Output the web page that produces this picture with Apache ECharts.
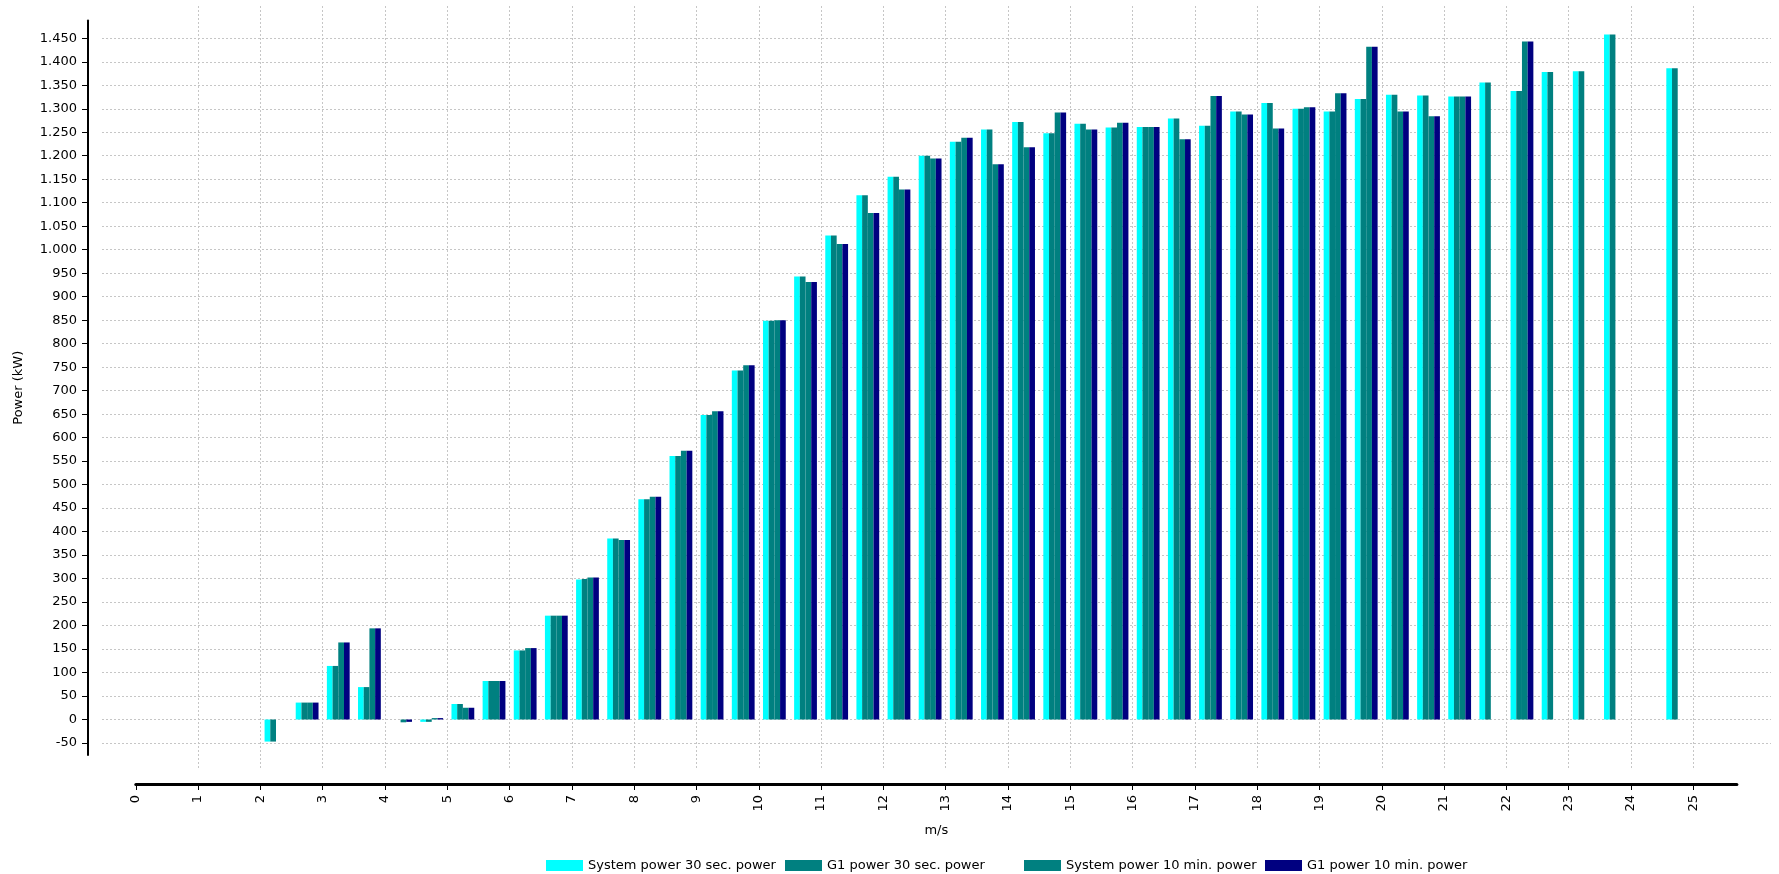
<!DOCTYPE html>
<html>
<head>
<meta charset="utf-8">
<title>Power curve</title>
<script src="https://cdn.jsdelivr.net/npm/echarts@6/dist/echarts.min.js"></script>
<style>
    html, body { margin: 0; padding: 0; background: #fff; }
    #chart1 { width: 1779px; height: 874px; }
</style>
</head>
<body>
<div id="chart1"></div>
<script>
/* wind speed bins (m/s), bar groups sit at the bin centres */
var speeds = [2.25, 2.75, 3.25, 3.75, 4.25, 4.75, 5.25, 5.75, 6.25, 6.75,
    7.25, 7.75, 8.25, 8.75, 9.25, 9.75, 10.25, 10.75, 11.25, 11.75,
    12.25, 12.75, 13.25, 13.75, 14.25, 14.75, 15.25, 15.75, 16.25, 16.75,
    17.25, 17.75, 18.25, 18.75, 19.25, 19.75, 20.25, 20.75, 21.25, 21.75,
    22.25, 22.75, 23.25, 23.75, 24.25, 24.75];

var sys30 = [-47, 36, 114, 69, null, -5, 33, 82, 147, 221,
    298, 385, 469, 561, 648, 743, 849, 943, 1030, 1116,
    1155, 1200, 1230, 1256, 1272, 1248, 1268, 1260, 1261, 1279,
    1264, 1294, 1312, 1300, 1294, 1321, 1330, 1328, 1326, 1356,
    1338, 1378, 1380, 1458, null, 1386];

var g1_30 = [-47, 36, 114, 69, null, -5, 33, 82, 147, 221,
    299, 385, 469, 561, 648, 743, 849, 943, 1030, 1116,
    1155, 1200, 1230, 1256, 1272, 1248, 1268, 1260, 1261, 1279,
    1264, 1294, 1312, 1300, 1294, 1321, 1330, 1328, 1326, 1356,
    1338, 1378, 1380, 1458, null, 1386];

var sys10 = [null, 36, 164, 194, -6, 3, 25, 82, 152, 221,
    302, 382, 474, 572, 656, 754, 850, 931, 1012, 1078,
    1128, 1194, 1238, 1182, 1218, 1292, 1256, 1270, 1261, 1235,
    1327, 1288, 1258, 1303, 1333, 1432, 1294, 1284, 1326, null,
    1443, null, null, null, null, null];

var g1_10 = [null, 36, 164, 194, -5, 3, 25, 82, 152, 221,
    302, 382, 474, 572, 656, 754, 850, 931, 1012, 1078,
    1128, 1194, 1238, 1182, 1218, 1292, 1256, 1270, 1261, 1235,
    1327, 1288, 1258, 1303, 1333, 1432, 1294, 1284, 1326, null,
    1443, null, null, null, null, null];

var xTicks = [0, 1, 2, 3, 4, 5, 6, 7, 8, 9, 10, 11, 12, 13, 14, 15, 16, 17, 18, 19, 20, 21, 22, 23, 24, 25];
var yTicks = [-50, 0, 50, 100, 150, 200, 250, 300, 350, 400, 450, 500, 550, 600, 650, 700,
    750, 800, 850, 900, 950, 1000, 1050, 1100, 1150, 1200, 1250, 1300, 1350, 1400, 1450];

var names = ['System power 30 sec. power', 'G1 power 30 sec. power',
    'System power 10 min. power', 'G1 power 10 min. power'];
var colors = ['#00ffff', '#008080', '#008080', '#000080'];

// legend entries are not evenly spaced in the original, so one legend per entry
var legendLeft = [541, 780, 1019, 1260];

var font = 'DejaVu Sans';
var gridLine = { color: '#c6c6c6', width: 1, type: [2, 2] };

function pairs(vals) {
    var out = [];
    for (var i = 0; i < speeds.length; i++) {
        if (vals[i] !== null) out.push([speeds[i], vals[i]]);
    }
    return out;
}

// 1.450 style thousands separator
function kw(v) {
    if (Math.abs(v) >= 1000) {
        var r = Math.abs(v) % 1000;
        return (v < 0 ? '-' : '') + Math.floor(Math.abs(v) / 1000) + '.' + ('00' + r).slice(-3);
    }
    return String(v);
}

var chart = echarts.init(document.getElementById('chart1'));

var series = [];
var legends = [];
var all = [sys30, g1_30, sys10, g1_10];
for (var i = 0; i < all.length; i++) {
    series.push({
        name: names[i],
        type: 'bar',
        xAxisIndex: 0,
        yAxisIndex: 0,
        barWidth: 5.7,
        barGap: '0%',
        data: pairs(all[i]),
        itemStyle: { color: colors[i] }
    });
    legends.push({
        left: legendLeft[i],
        top: 854,
        itemWidth: 37,
        itemHeight: 11,
        icon: 'rect',
        selectedMode: false,
        textStyle: { color: '#000', fontSize: 13, fontFamily: font },
        data: [names[i]]
    });
}

var option = {
    animation: false,
    backgroundColor: '#fff',
    textStyle: { fontFamily: font },
    grid: [
        // bars + vertical grid lines
        { left: 135.8, right: 42.1, top: 6, bottom: 104, outerBoundsMode: 'none' },
        // horizontal grid lines + y axis
        { left: 102, right: 8, top: 20.5, bottom: 119, outerBoundsMode: 'none' }
    ],
    legend: legends,
    xAxis: [
        {
            type: 'value',
            gridIndex: 0,
            min: 0,
            max: 25.7,
            interval: 1,
            offset: 14,
            name: 'm/s',
            nameLocation: 'middle',
            nameGap: 40,
            nameTextStyle: { color: '#000', fontSize: 13, fontFamily: font },
            axisLine: { show: true, onZero: false, lineStyle: { color: '#000', width: 3 } },
            axisTick: { show: true, length: 6, customValues: xTicks, lineStyle: { color: '#000', width: 1 } },
            axisLabel: { rotate: 90, margin: 11, customValues: xTicks, color: '#000', fontSize: 13, fontFamily: font },
            splitLine: { show: true, showMinLine: false, lineStyle: gridLine }
        },
        { type: 'value', gridIndex: 1, show: false, min: 0, max: 1 }
    ],
    yAxis: [
        { type: 'value', gridIndex: 0, show: false, min: -107.5, max: 1518.7, splitLine: { show: false } },
        {
            type: 'value',
            gridIndex: 1,
            min: -75.6,
            max: 1487.9,
            offset: 14,
            name: 'Power (kW)',
            nameLocation: 'middle',
            nameGap: 63,
            nameTextStyle: { color: '#000', fontSize: 13, fontFamily: font },
            axisLine: { show: true, onZero: false, lineStyle: { color: '#000', width: 2 } },
            axisTick: { show: true, length: 6, customValues: yTicks, lineStyle: { color: '#000', width: 1 } },
            axisLabel: { margin: 11, customValues: yTicks, color: '#000', fontSize: 13, fontFamily: font, formatter: kw },
            splitLine: { show: true, lineStyle: gridLine }
        }
    ],
    series: series
};

chart.setOption(option);
</script>
</body>
</html>
